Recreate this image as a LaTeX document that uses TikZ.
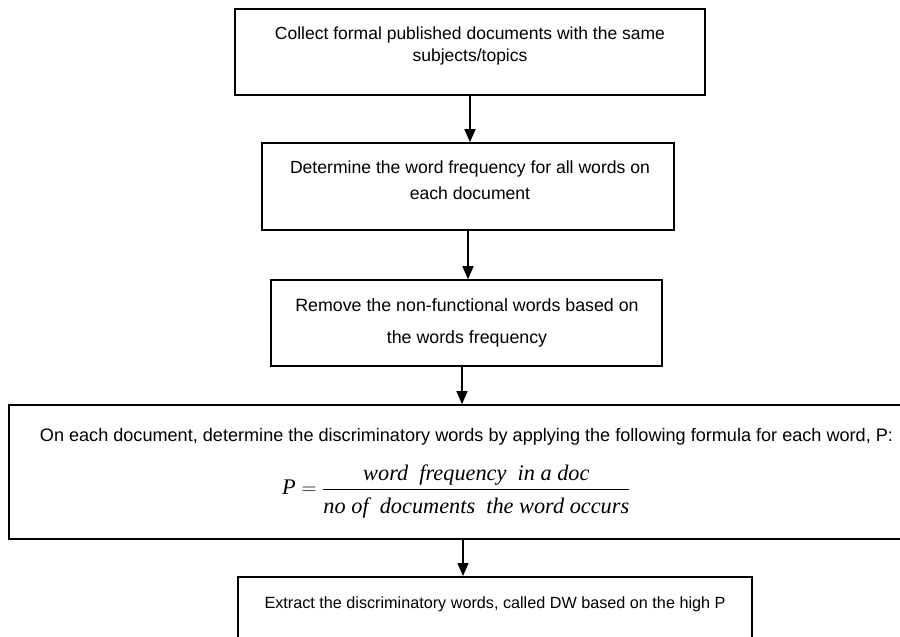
\documentclass[tikz,border=0pt]{standalone}
\usepackage{amsmath}
\usepackage{fontspec}
\setmainfont{Liberation Sans}
\newfontfamily\eqfont{Liberation Serif}
\usetikzlibrary{arrows.meta}

\begin{document}
\begin{tikzpicture}[x=1pt,y=1pt,
  box/.style={draw=black, line width=1.6pt, rectangle, inner sep=0pt, align=center},
  boxtext/.style 2 args={inner sep=0pt, align=center, font=\fontsize{#1}{#2}\selectfont},
  flow/.style={-{Triangle[length=13pt,width=11pt]}, line width=1.4pt}]
\useasboundingbox (0,0) rectangle (900,-637);
\clip (0,0) rectangle (900,-637);

% step boxes
\node[box, minimum width=470, minimum height=86] (b1) at (470,-52) {};
\node[boxtext={17.5}{22}] (t1) at (470,-46) {Collect formal published documents with the same\\subjects/topics};

\node[box, minimum width=412, minimum height=87] (b2) at (468,-186.5) {};
\node[boxtext={17.6}{26}] (t2) at (470,-180) {Determine the word frequency for all words on\\each document};

\node[box, minimum width=391, minimum height=86] (b3) at (466.5,-323) {};
\node[boxtext={17.8}{32}] (t3) at (467,-323) {Remove the non-functional words based on\\the words frequency};

\node[box, minimum width=911, minimum height=134] (b4) at (464.5,-472) {};
\node[boxtext={18.1}{22}] (t4) at (466.5,-437) {On each document, determine the discriminatory words by applying the following formula for each word, P:};
\node[inner sep=0pt, anchor=base west] (f4) at (282,-494.5)
  {\eqfont\fontsize{22.3}{26}\selectfont
   $\textit{P} = \genfrac{}{}{1.2pt}{0}
      {\raisebox{-4pt}{\textit{word\ \ frequency\ \ in a doc}}}
      {\rule{0pt}{20pt}\textit{no of\ \ documents\ \ the word occurs}}$};

\node[box, minimum width=514, minimum height=120, anchor=north] (b5) at (495,-576) {};
\node[boxtext={16.2}{22}] (t5) at (495,-604) {Extract the discriminatory words, called DW based on the high P};

% x positions of the connectors
\coordinate (x1) at (470,0);
\coordinate (x2) at (468,0);
\coordinate (x3) at (462,0);
\coordinate (x4) at (463,0);

\draw[flow] (b1.south -| x1) -- (b2.north -| x1);
\draw[flow] (b2.south -| x2) -- (b3.north -| x2);
\draw[flow] (b3.south -| x3) -- (b4.north -| x3);
\draw[flow] (b4.south -| x4) -- (b5.north -| x4);
\end{tikzpicture}
\end{document}
